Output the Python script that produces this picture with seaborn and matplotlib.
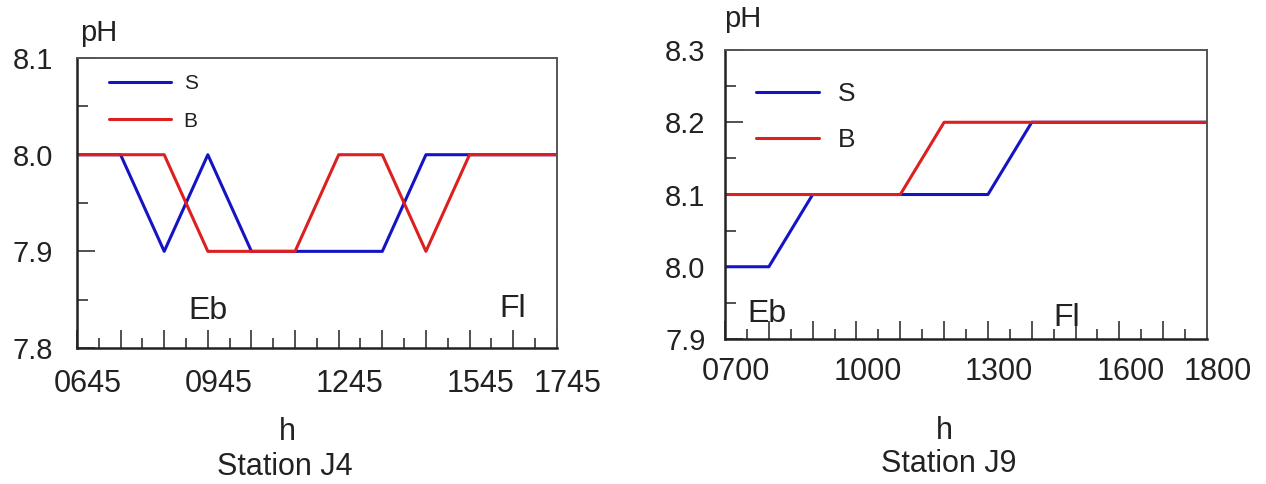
import numpy as np
import pandas as pd
import matplotlib
matplotlib.use("Agg")
import matplotlib.pyplot as plt
import matplotlib.transforms as mtransforms
import seaborn as sns

# Station J4: hourly readings, 0645 .. 1745
j4_hours = [6.75, 7.75, 8.75, 9.75, 10.75, 11.75, 12.75, 13.75, 14.75, 15.75, 16.75, 17.75]
j4_surface = [8.0, 8.0, 7.9, 8.0, 7.9, 7.9, 7.9, 7.9, 8.0, 8.0, 8.0, 8.0]
j4_bottom = [8.0, 8.0, 8.0, 7.9, 7.9, 7.9, 8.0, 8.0, 7.9, 8.0, 8.0, 8.0]
j4_ticklabels = ["0645", "0945", "1245", "1545", "1745"]
j4_tickhours = [6.75, 9.75, 12.75, 15.75, 17.75]

# Station J9: hourly readings, 0700 .. 1800
j9_hours = [7, 8, 9, 10, 11, 12, 13, 14, 15, 16, 17, 18]
j9_surface = [8.0, 8.0, 8.1, 8.1, 8.1, 8.1, 8.1, 8.2, 8.2, 8.2, 8.2, 8.2]
j9_bottom = [8.1, 8.1, 8.1, 8.1, 8.1, 8.2, 8.2, 8.2, 8.2, 8.2, 8.2, 8.2]
j9_ticklabels = ["0700", "1000", "1300", "1600", "1800"]
j9_tickhours = [7, 10, 13, 16, 18]

sns.set_style("white")
plt.rcParams['font.family'] = ['Liberation Sans', 'DejaVu Sans']
plt.rcParams['text.color'] = '#222222'

palette = {"S": "#1414C4", "B": "#DC2020"}


def long_df(hours, s, b):
    return pd.DataFrame({
        "h": hours * 2,
        "pH": s + b,
        "series": ["S"] * len(hours) + ["B"] * len(hours),
    })


def style_axes(ax, x0, x1, y0, y1, tickhours, ticklabels, xpad, ypad):
    ax.set_xlim(x0, x1)
    ax.set_ylim(y0, y1)
    hours = np.arange(x0, x1 + 0.01, 1.0)
    ax.set_xticks(hours)
    ax.set_xticklabels([ticklabels[tickhours.index(h)] if h in tickhours else "" for h in hours],
                       fontsize=22)
    ax.set_xticks(np.arange(x0 + 0.5, x1, 1.0), minor=True)
    ax.set_yticks(np.round(np.arange(y0, y1 + 0.001, 0.1), 2))
    ax.set_yticks(np.round(np.arange(y0 + 0.05, y1, 0.1), 2), minor=True)
    ax.yaxis.set_major_formatter(matplotlib.ticker.FormatStrFormatter('%.1f'))
    ax.tick_params(axis='x', which='major', direction='in', length=13, width=1.2,
                   pad=xpad, colors='#222222')
    ax.tick_params(axis='x', which='minor', direction='in', length=7, width=1.2)
    ax.tick_params(axis='y', which='major', direction='in', length=13, width=1.2,
                   pad=ypad, labelsize=21, colors='#222222')
    ax.tick_params(axis='y', which='minor', direction='in', length=8, width=1.2)
    ax.tick_params(bottom=True, left=True, which='both', color='#333333')
    # labels in the original sit a little right of their ticks
    shift = mtransforms.ScaledTranslation(11 / 100, 0, ax.figure.dpi_scale_trans)
    for lab in ax.get_xticklabels():
        lab.set_transform(lab.get_transform() + shift)
    ax.set_xlabel("")
    ax.set_ylabel("")
    for side in ['left', 'bottom']:
        ax.spines[side].set_linewidth(1.8)
        ax.spines[side].set_color('#222222')
    for side in ['top', 'right']:
        ax.spines[side].set_linewidth(1.4)
        ax.spines[side].set_color('#555555')


fig = plt.figure(figsize=(12.66, 4.84), dpi=100)
ax1 = fig.add_axes([0.0608, 0.281, 0.379, 0.599])
ax2 = fig.add_axes([0.5727, 0.2996, 0.3807, 0.597])

sns.lineplot(data=long_df(j4_hours, j4_surface, j4_bottom), x="h", y="pH",
             hue="series", palette=palette, linewidth=2.2, ax=ax1)
sns.lineplot(data=long_df(j9_hours, j9_surface, j9_bottom), x="h", y="pH",
             hue="series", palette=palette, linewidth=2.2, ax=ax2)

style_axes(ax1, 6.75, 17.75, 7.8, 8.1, j4_tickhours, j4_ticklabels, 15, 17)
style_axes(ax2, 7, 18, 7.9, 8.3, j9_tickhours, j9_ticklabels, 13, 14)

ax1.legend(loc='upper left', bbox_to_anchor=(0.066, 0.945), frameon=False,
           fontsize=15, handlelength=3.0, handletextpad=0.6,
           labelspacing=0.9, borderpad=0, borderaxespad=0)
ax2.legend(loc='upper left', bbox_to_anchor=(0.064, 0.89), frameon=False,
           fontsize=19, handlelength=2.4, handletextpad=0.7,
           labelspacing=0.85, borderpad=0, borderaxespad=0)

# tide stage annotations
ax1.text(9.75, 7.838, "Eb", ha='center', va='center', fontsize=23)
ax1.text(16.73, 7.84, "Fl", ha='center', va='center', fontsize=23)
ax2.text(7.96, 7.935, "Eb", ha='center', va='center', fontsize=23)
ax2.text(14.8, 7.929, "Fl", ha='center', va='center', fontsize=23)

# axis names
fig.text(99 / 1266, 1 - 33 / 484, "pH", ha='center', va='center', fontsize=21)
fig.text(743 / 1266, 1 - 19 / 484, "pH", ha='center', va='center', fontsize=21)
fig.text(287 / 1266, 1 - 432 / 484, "h", ha='center', va='center', fontsize=22)
fig.text(285 / 1266, 1 - 467 / 484, "Station J4", ha='center', va='center', fontsize=22)
fig.text(944 / 1266, 1 - 431 / 484, "h", ha='center', va='center', fontsize=22)
fig.text(949 / 1266, 1 - 464 / 484, "Station J9", ha='center', va='center', fontsize=22)

fig.savefig("out.png", dpi=100)
